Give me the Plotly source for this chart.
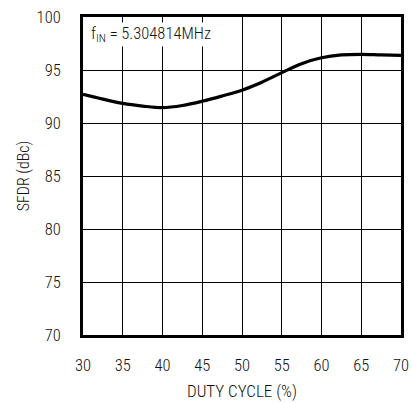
import plotly.graph_objects as go

duty_cycle = [30, 32.5, 35, 37.5, 40, 42.5, 45, 47.5, 50, 52.5, 55, 57.5, 60, 62.5, 65, 67.5, 70]
sfdr = [92.7, 92.25, 91.85, 91.6, 91.45, 91.65, 92.05, 92.55, 93.1, 93.85, 94.75, 95.6, 96.15, 96.42, 96.48, 96.42, 96.38]

x_ticks = [30, 35, 40, 45, 50, 55, 60, 65, 70]
y_ticks = [70, 75, 80, 85, 90, 95, 100]

FONT = "Roboto Condensed, sans-serif"

fig = go.Figure()
fig.add_trace(go.Scatter(x=duty_cycle, y=sfdr, mode="lines", line=dict(color="black", width=3.2, shape="spline"),
                         showlegend=False, hoverinfo="skip"))

fig.update_layout(
    width=413, height=403,
    margin=dict(l=83, r=4, t=17, b=60),
    paper_bgcolor="white", plot_bgcolor="white",
    font=dict(family=FONT, size=16, color="#111", weight=300),
    xaxis=dict(range=[30, 70], tickvals=x_ticks, ticktext=[str(t) for t in x_ticks],
               showgrid=True, gridcolor="black", gridwidth=1, zeroline=False,
               showline=True, linecolor="black", linewidth=3, mirror=True, ticks="",
               ticklabelstandoff=13, ticklabeloverflow="allow",
               title=dict(text="DUTY CYCLE (%)", font=dict(size=17, weight=300), standoff=12),
               tickfont=dict(size=16.5, weight=300)),
    yaxis=dict(range=[70, 100], tickvals=y_ticks, ticktext=[str(t) for t in y_ticks],
               showgrid=True, gridcolor="black", gridwidth=1, zeroline=False,
               showline=True, linecolor="black", linewidth=3, mirror=True, ticks="",
               ticklabelstandoff=16, ticklabeloverflow="allow",
               title=dict(text="SFDR (dBc)", font=dict(size=16, weight=300), standoff=4),
               tickfont=dict(size=16.5, weight=300)),
    annotations=[dict(x=0.02, y=0.985, xref="paper", yref="paper", xanchor="left", yanchor="top",
                      text="f<sub>IN</sub> = 5.304814MHz", showarrow=False,
                      font=dict(size=16.5, weight=300), bgcolor="white")],
)

fig.write_html("out.html")
